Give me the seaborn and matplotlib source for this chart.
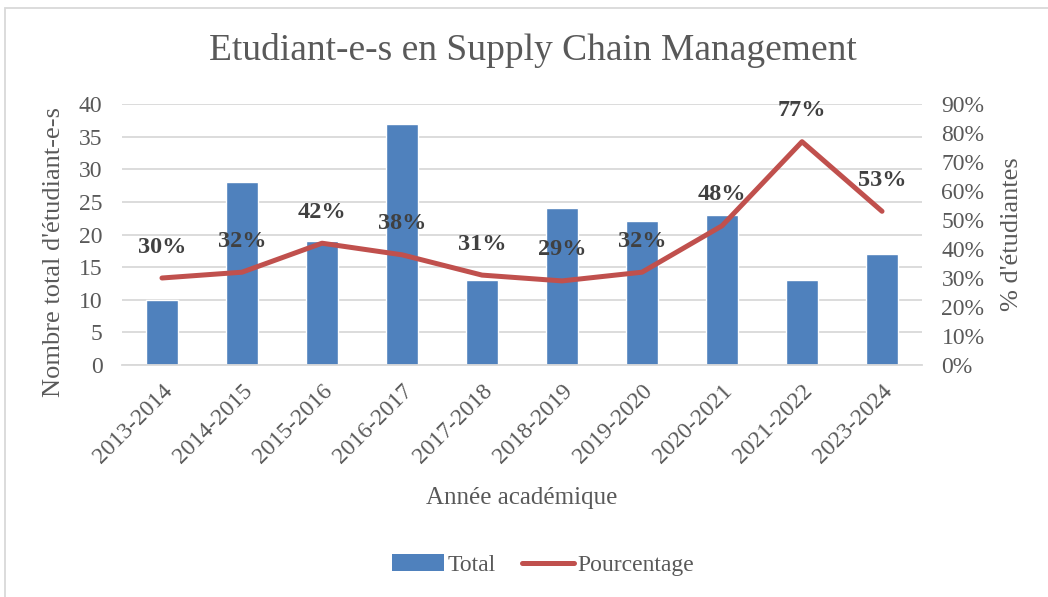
import matplotlib
matplotlib.use("Agg")
import matplotlib.pyplot as plt
import seaborn as sns
import numpy as np
import pandas as pd
from matplotlib.lines import Line2D
from matplotlib.patches import Patch, Rectangle
from matplotlib.ticker import PercentFormatter, MultipleLocator

years = ["2013-2014", "2014-2015", "2015-2016", "2016-2017", "2017-2018",
         "2018-2019", "2019-2020", "2020-2021", "2021-2022", "2023-2024"]
totals = [10, 28, 19, 37, 13, 24, 22, 23, 13, 17]
pourcentage = [30, 32, 42, 38, 31, 29, 32, 48, 77, 53]

BLUE = "#4F81BD"
RED = "#C0504D"
TXT = "#595959"
GRID = "#D9D9D9"

sns.set_theme(style="white")
plt.rcParams["font.family"] = ["Liberation Serif", "DejaVu Serif"]

fig = plt.figure(figsize=(10.48, 5.97), dpi=100)
ax = fig.add_axes([0.1164, 0.3886, 0.7634, 0.4372])

df = pd.DataFrame({"Année": years, "Total": totals, "Pct": pourcentage})
sns.barplot(data=df, x="Année", y="Total", color=BLUE, width=0.39,
            saturation=1, ax=ax, zorder=2)
ax.set_ylim(0, 40)
ax.yaxis.set_major_locator(MultipleLocator(5))
ax.set_xlim(-0.5, len(years) - 0.5)
ax.grid(axis="y", color=GRID, linewidth=1.3, zorder=0)
ax.set_axisbelow(True)
for s in ax.spines.values():
    s.set_visible(False)
ax.spines["bottom"].set_visible(True)
ax.spines["bottom"].set_color(GRID)
ax.spines["bottom"].set_linewidth(1.3)
ax.tick_params(axis="y", length=0, labelsize=17, colors=TXT, pad=14)
ax.tick_params(axis="x", length=0, labelsize=17, colors=TXT, pad=11)
ax.set_xticks(range(len(years)))
ax.set_xticklabels(years, rotation=45, ha="right", rotation_mode="anchor")
ax.set_xlabel("Année académique", fontsize=18, color=TXT, labelpad=14)
ax.set_ylabel("Nombre total d'étudiant-e-s", fontsize=19, color=TXT)
ax.yaxis.set_label_coords(-0.071, 0.433)

ax2 = ax.twinx()
xpos = np.arange(len(years))
sns.lineplot(x=xpos, y=np.array(pourcentage) / 100.0, color=RED, linewidth=3.6,
             ax=ax2, zorder=3)
ax2.set_ylim(0, 0.9)
ax2.yaxis.set_major_locator(MultipleLocator(0.1))
ax2.yaxis.set_major_formatter(PercentFormatter(1.0, decimals=0))
ax2.tick_params(axis="y", length=0, labelsize=17, colors=TXT, pad=14)
for s in ax2.spines.values():
    s.set_visible(False)
ax2.set_ylabel("% d'étudiantes", fontsize=19, color=TXT, labelpad=12)
ax2.grid(False)
ax2.set_xlim(-0.5, len(years) - 0.5)

for xi, p in zip(xpos, pourcentage):
    ax2.annotate(f"{p}%", (xi, p / 100.0), xytext=(0, 31), textcoords="offset pixels",
                 ha="center", va="center", fontsize=17.5, fontweight="bold",
                 color="#404040")

fig.suptitle("Etudiant-e-s en Supply Chain Management", fontsize=27,
             color=TXT, x=533 / 1048, y=1 - 50 / 597, va="center")

handles = [Patch(facecolor=BLUE, edgecolor="none"),
           Line2D([0], [0], color=RED, linewidth=3.6)]
fig.legend(handles, ["Total", "Pourcentage"], loc="center", ncol=2,
           bbox_to_anchor=(543 / 1048, 1 - 565 / 597), frameon=False, fontsize=17,
           labelcolor=TXT, handlelength=2.2, handletextpad=0.15, columnspacing=1.1)

fig.patches.append(Rectangle((5 / 1048, -0.05), 1.2, 1 - 8 / 597 + 0.05,
                             transform=fig.transFigure, fill=False,
                             edgecolor="#D9D9D9", linewidth=1.3))

fig.savefig("out.png", dpi=100, facecolor="white")
